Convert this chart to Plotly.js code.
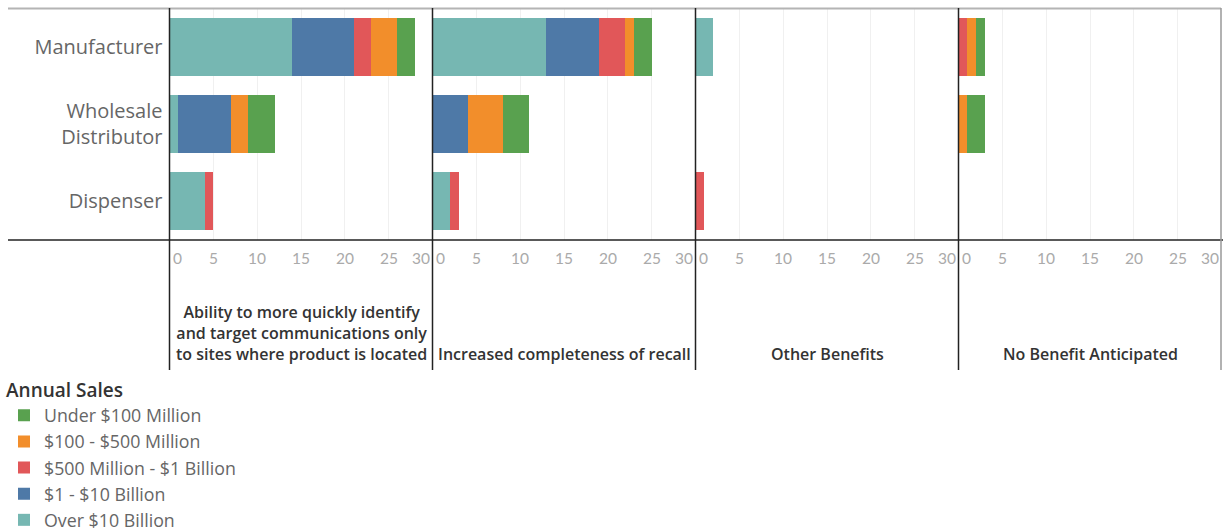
<!DOCTYPE html>
<html>
<head>
<meta charset="utf-8">
<script src="https://cdn.plot.ly/plotly-3.0.1.min.js"></script>
<style>html,body{margin:0;padding:0;background:#fff;overflow:hidden;}#chart{width:1223px;height:531px;}</style>
</head>
<body>
<div id="chart"></div>
<script>
// ---- data ----
const roles = ["Manufacturer", "Wholesale Distributor", "Dispenser"];
const roleLabels = ["Manufacturer", "Wholesale<br>Distributor", "Dispenser"];
const benefits = [
  "Ability to more quickly identify<br>and target communications only<br>to sites where product is located",
  "Increased completeness of recall",
  "Other Benefits",
  "No Benefit Anticipated"
];
const seriesNames = ["Over $10 Billion", "$1 - $10 Billion", "$500 Million - $1 Billion", "$100 - $500 Million", "Under $100 Million"];
const seriesColors = ["#76b7b2", "#4e79a7", "#e15759", "#f28e2b", "#59a14f"];
// values[series][benefit] = [Manufacturer, Wholesale Distributor, Dispenser]
const overTen     = [[14, 1, 4], [13, 0, 2], [2, 0, 0], [0, 0, 0]];
const oneToTen    = [[7, 6, 0],  [6, 4, 0],  [0, 0, 0], [0, 0, 0]];
const fiveHundred = [[2, 0, 1],  [3, 0, 1],  [0, 0, 1], [1, 0, 0]];
const oneHundred  = [[3, 2, 0],  [1, 4, 0],  [0, 0, 0], [1, 1, 0]];
const underHundred= [[2, 3, 0],  [2, 3, 0],  [0, 0, 0], [1, 2, 0]];
const seriesValues = [overTen, oneToTen, fiveHundred, oneHundred, underHundred];
const tickValues = [0, 5, 10, 15, 20, 25, 30];

// ---- geometry helpers ----
const W = 1223, H = 531;
const px = x => x / W;
const py = y => 1 - y / H;
const panelEdges = [169.5, 432.5, 695.5, 958.5, 1221.5];

const traces = [];
seriesNames.forEach((name, s) => {
  benefits.forEach((b, p) => {
    traces.push({
      type: "bar",
      orientation: "h",
      name: name,
      legendgroup: name,
      legendrank: 100 - s,
      showlegend: p === 0,
      x: seriesValues[s][p],
      y: roleLabels,
      xaxis: p === 0 ? "x" : "x" + (p + 1),
      yaxis: "y",
      marker: {color: seriesColors[s], line: {width: 0}},
      width: 0.75,
      hovertemplate: "%{y}: %{x}<extra>" + name + "</extra>"
    });
  });
});

const layout = {
  width: W, height: H,
  margin: {l: 0, r: 0, t: 0, b: 0, autoexpand: false},
  paper_bgcolor: "#fff", plot_bgcolor: "#fff",
  barmode: "stack",
  showlegend: true,
  font: {family: "Open Sans, sans-serif", color: "#666"},
  yaxis: {
    domain: [py(240), py(8.5)],
    type: "category",
    categoryorder: "array",
    categoryarray: roleLabels,
    autorange: "reversed",
    showgrid: false, zeroline: false, showline: false,
    ticks: "", ticklabelstandoff: 6,
    tickfont: {size: 20, color: "#666", family: "Open Sans, sans-serif"},
    fixedrange: true
  },
  legend: {
    x: px(4), y: py(372.5), xanchor: "left", yanchor: "top",
    traceorder: "grouped",
    tracegroupgap: 0,
    title: {text: "Annual Sales", font: {size: 19, color: "#333", family: "Open Sans, sans-serif", weight: 600}},
    font: {size: 17.8, color: "#666", family: "Open Sans, sans-serif"},
    itemwidth: 30,
    bgcolor: "rgba(0,0,0,0)"
  },
  annotations: [],
  shapes: []
};

benefits.forEach((b, p) => {
  const key = p === 0 ? "xaxis" : "xaxis" + (p + 1);
  layout[key] = {
    domain: [px(panelEdges[p]), px(panelEdges[p + 1])],
    anchor: "y",
    range: [0, 30],
    tickvals: [5, 10, 15, 20, 25],
    showticklabels: false,
    ticks: "",
    showgrid: true, gridcolor: "#f0f0f0", gridwidth: 1,
    zeroline: false, showline: false,
    fixedrange: true
  };
  const xr = p === 0 ? "x" : "x" + (p + 1);
  tickValues.forEach(v => {
    layout.annotations.push({
      x: v, xref: xr, y: py(258), yref: "paper",
      text: String(v), showarrow: false,
      xanchor: v === 0 ? "left" : (v === 30 ? "right" : "center"),
      yanchor: "middle",
      xshift: v === 0 ? 1 : (v === 30 ? -1 : 0),
      font: {size: 15.5, color: "#aaa", family: "Lato, sans-serif"}
    });
  });
  layout.annotations.push({
    x: (px(panelEdges[p]) + px(panelEdges[p + 1])) / 2, xref: "paper",
    xanchor: "center",
    y: py(367), yref: "paper", yanchor: "bottom",
    text: b, showarrow: false, align: "center",
    font: {size: 16, color: "#333", family: "Open Sans, sans-serif", weight: 600}
  });
});

// frame lines
layout.shapes.push({type: "line", xref: "paper", yref: "paper", x0: px(8), x1: px(1221), y0: py(8.5), y1: py(8.5), line: {color: "#b4b4b4", width: 2}});
layout.shapes.push({type: "line", xref: "paper", yref: "paper", x0: px(8), x1: px(1223), y0: py(240), y1: py(240), line: {color: "#222", width: 1.5}});
[169.5, 432.5, 695.5, 958.5].forEach(x => {
  layout.shapes.push({type: "line", xref: "paper", yref: "paper", x0: px(x), x1: px(x), y0: py(8), y1: py(370), line: {color: "#222", width: 1.5}});
});
layout.shapes.push({type: "line", xref: "paper", yref: "paper", x0: px(1221), x1: px(1221), y0: py(8), y1: py(370), line: {color: "#999", width: 1.5}});

Plotly.newPlot("chart", traces, layout, {displayModeBar: false, staticPlot: true});
</script>
</body>
</html>
